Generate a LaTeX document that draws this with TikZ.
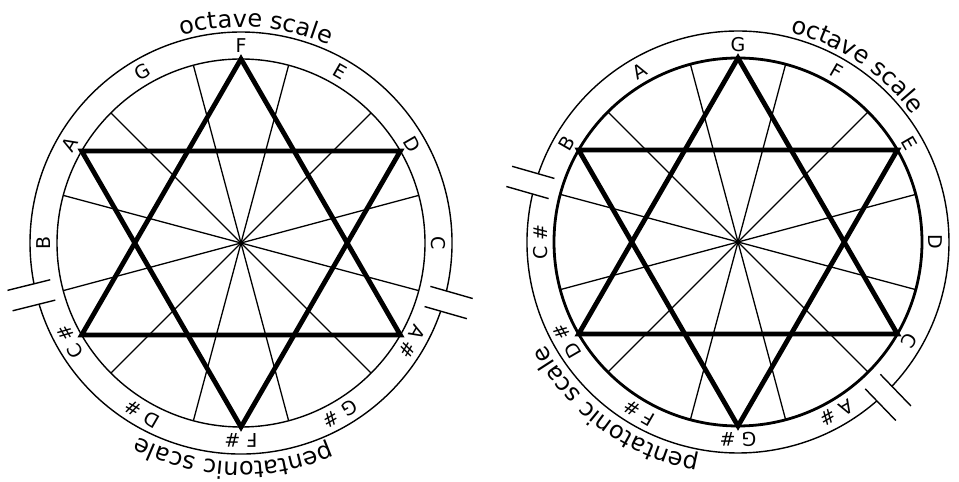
\documentclass[tikz,border=0pt]{standalone}
\usepackage{fontspec}
\setmainfont{DejaVu Sans}
\usetikzlibrary{decorations.text}
\newcommand{\notefont}{\fontsize{19}{19}\selectfont}
\newcommand{\scalefont}{\fontsize{24}{24}\selectfont}

\begin{document}
\begin{tikzpicture}[x=1pt, y=1pt,
      spoke/.style={line width=1.3pt},
      ring/.style={line width=1.4pt},
      star/.style={line width=4.8pt, line join=miter},
      note/.style={font=\notefont, inner sep=0pt},
      breakmark/.style={line width=1.4pt},
      curved/.style={decorate, decoration={text along path, text align=center,
                     text={|\scalefont|#1}}}]
    \useasboundingbox (0,0) rectangle (959,482);
    \coordinate (L) at (241,239);
    \coordinate (R) at (738,240);
    % spokes, star and inner circle of both wheels
    \foreach \w in {L,R}{
      \foreach \a in {15,45,...,345}
        \draw[spoke] (\w) -- ++(\a:184);
      \foreach \k in {0,...,5}
        \path (\w) ++(30+60*\k:184) coordinate (\w v\k);
      \draw[star] (\w v1) -- (\w v3) -- (\w v5) -- cycle;
      \draw[star] (\w v0) -- (\w v2) -- (\w v4) -- cycle;
    }
    \draw[ring] (L) circle[radius=184];
    \draw[ring, line width=2.8pt] (R) circle[radius=184];
    % outer ring, cut in two
    \draw[ring] ([shift={(196.8:211)}]L) arc[start angle=196.8, end angle=341.2, radius=211];
    \draw[ring] ([shift={(346.8:211)}]L) arc[start angle=346.8, end angle=551.2, radius=211];
    \draw[ring] ([shift={(166.8:211)}]R) arc[start angle=166.8, end angle=311.2, radius=211];
    \draw[ring] ([shift={(316.8:211)}]R) arc[start angle=316.8, end angle=521.2, radius=211];
    \foreach \w/\a in {L/194, L/344, R/164, R/314}{
      \begin{scope}[shift={(\w)}, rotate=\a]
        \draw[breakmark] (194,10.5) -- (238,10.5);
        \draw[breakmark] (194,-10.5) -- (238,-10.5);
      \end{scope}
    }
    % note names
    \foreach \ang/\name/\id in {90/F/f, 60/E/e, 30/D/d, 0/C/c, -30/{A \#}/as,
        -60/{G \#}/gs, -90/{F \#}/fs, -120/{D \#}/ds, -150/{C \#}/cs,
        180/B/b, 150/A/a, 120/G/g}
      \node[note, rotate=\ang-90] (Ln\id) at ([shift={(\ang:197.5)}]L) {\name};
    \foreach \ang/\name/\id in {90/G/g, 60/F/f, 30/E/e, 0/D/d, -30/C/c,
        -60/{A \#}/as, -90/{G \#}/gs, -120/{F \#}/fs, -150/{D \#}/ds,
        180/{C \#}/cs, 150/B/b, 120/A/a}
      \node[note, rotate=\ang-90] (Rn\id) at ([shift={(\ang:197.5)}]R) {\name};
    % scale names along the rim
    \path[curved={octave scale}] ([shift={(126:216)}]L) arc[start angle=126, end angle=46, radius=216];
    \path[curved={pentatonic scale}] ([shift={(328:219)}]L) arc[start angle=328, end angle=208, radius=219];
    \path[curved={octave scale}] ([shift={(96:216)}]R) arc[start angle=96, end angle=16, radius=216];
    \path[curved={pentatonic scale}] ([shift={(294:219)}]R) arc[start angle=294, end angle=174, radius=219];
  \end{tikzpicture}
\end{document}
